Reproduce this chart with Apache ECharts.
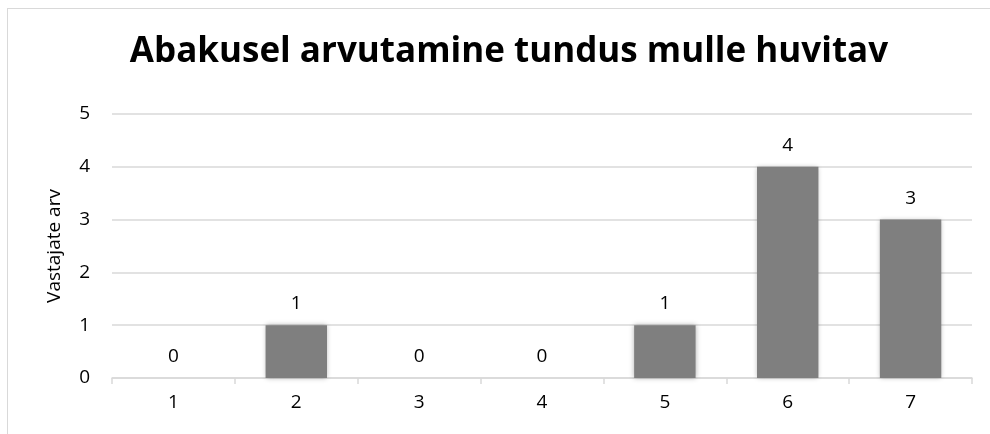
<!DOCTYPE html>
<html>
<head>
<meta charset="utf-8">
<script src="https://cdn.jsdelivr.net/npm/echarts@6/dist/echarts.min.js"></script>
<style>
  html, body { margin: 0; padding: 0; background: #fff; }
  #frame { position: absolute; left: 7px; top: 8px; width: 990px; height: 440px; border: 1px solid #d9d9d9; box-sizing: border-box; }
  #main { position: absolute; left: 0; top: 0; width: 990px; height: 434px; }
</style>
</head>
<body>
<div id="frame"></div>
<div id="main"></div>
<script>
// andmed
const categories = ['1', '2', '3', '4', '5', '6', '7'];
const values = [0, 1, 0, 0, 1, 4, 3];
const titleText = 'Abakusel arvutamine tundus mulle huvitav';
const yName = 'Vastajate arv';

const font = '"Open Sans", Lato, sans-serif';
const chart = echarts.init(document.getElementById('main'));
const option = {
  animation: false,
  title: {
    text: titleText,
    left: 504,
    textAlign: 'center',
    top: 30,
    textStyle: { fontFamily: font, fontWeight: 'bold', fontSize: 35, color: '#000' },
  },
  grid: { left: 112, right: 18, top: 114, bottom: 56 },
  xAxis: {
    type: 'category',
    data: categories,
    axisLine: { lineStyle: { color: '#d9d9d9', width: 1.5 } },
    axisTick: { show: true, length: 6, lineStyle: { color: '#d9d9d9', width: 1.5 } },
    axisLabel: { fontFamily: font, fontSize: 19, color: '#000', margin: 15 },
  },
  yAxis: {
    type: 'value',
    min: 0,
    max: 5,
    interval: 1,
    name: yName,
    nameLocation: 'middle',
    nameGap: 48,
    nameTextStyle: { fontFamily: font, fontSize: 19, color: '#000' },
    axisLine: { show: false },
    axisTick: { show: false },
    axisLabel: { fontFamily: font, fontSize: 19, color: '#000', margin: 22 },
    splitLine: { lineStyle: { color: '#d9d9d9', width: 1.5 } },
  },
  series: [
    {
      type: 'bar',
      data: values,
      barWidth: '50%',
      itemStyle: {
        color: '#7f7f7f',
        shadowBlur: 5,
        shadowColor: 'rgba(0,0,0,0.3)',
      },
      label: {
        show: true,
        position: 'top',
        distance: 12,
        fontFamily: font,
        fontSize: 19,
        color: '#000',
      },
    },
  ],
};
chart.setOption(option);
</script>
</body>
</html>
